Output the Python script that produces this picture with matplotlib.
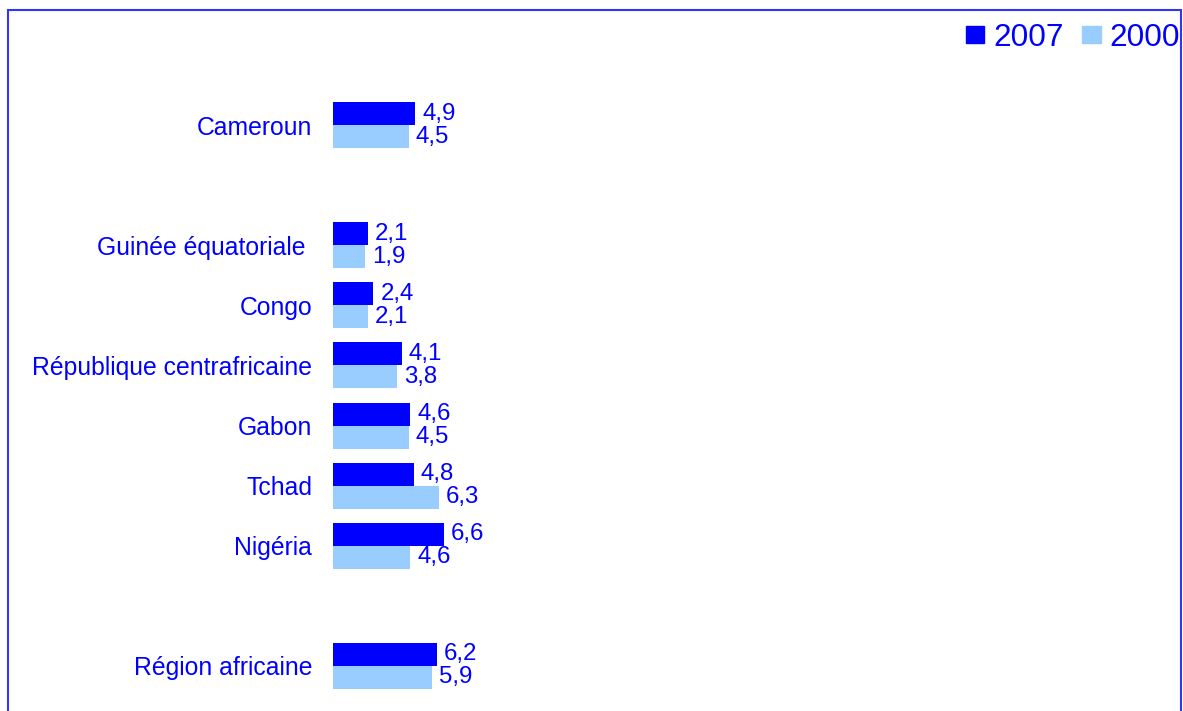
import matplotlib.pyplot as plt
from matplotlib.patches import Rectangle, Patch

# Données
categories = ['Cameroun', 'Guinée équatoriale ', 'Congo', 'République centrafricaine',
              'Gabon', 'Tchad', 'Nigéria', 'Région africaine']
values_2007 = [4.9, 2.1, 2.4, 4.1, 4.6, 4.8, 6.6, 6.2]
values_2000 = [4.5, 1.9, 2.1, 3.8, 4.5, 6.3, 4.6, 5.9]
series_names = ['2007', '2000']

# Position des catégories (avec des espaces vides)
slots = [0, 2, 3, 4, 5, 6, 7, 9]

blue = '#0000ff'
light = '#99ccff'
plt.rcParams['font.family'] = ['Liberation Sans', 'DejaVu Sans']

W, H = 1183, 711
fig = plt.figure(figsize=(W / 100, H / 100), dpi=100)
fig.patch.set_facecolor('white')

# axes placés en pixels
left, right, top = 333, 1150, 35
ax = fig.add_axes([left / W, 0, (right - left) / W, (H - top) / H])
px_per_unit = 16.8
slot_px = 60.1
ax.set_xlim(0, (right - left) / px_per_unit)
ax.set_ylim((H - 125) / slot_px, (top - 125) / slot_px)

h = 23 / slot_px
y07 = [s - h / 2 for s in slots]
y00 = [s + h / 2 for s in slots]
b07 = ax.barh(y07, values_2007, height=h, color=blue, label=series_names[0])
b00 = ax.barh(y00, values_2000, height=h, color=light, label=series_names[1])

fmt = lambda v: f'{v:.1f}'.replace('.', ',')
ax.bar_label(b07, labels=[fmt(v) for v in values_2007], padding=5, color=blue, fontsize=17.3)
ax.bar_label(b00, labels=[fmt(v) for v in values_2000], padding=5, color=blue, fontsize=17.3)

ax.set_yticks(slots)
ax.set_yticklabels(categories, color=blue, fontsize=17.8)
ax.tick_params(axis='y', length=0, pad=15)
ax.set_xticks([])
for sp in ax.spines.values():
    sp.set_visible(False)
ax.patch.set_alpha(0)

handles = [Patch(color=blue), Patch(color=light)]
leg = fig.legend(handles, series_names, loc='upper right', ncol=2,
                 bbox_to_anchor=(1180 / W, 1 - 23 / H), frameon=False,
                 fontsize=22.7, handlelength=0.6, handleheight=0.45,
                 handletextpad=0.28, columnspacing=0.57, borderpad=0, borderaxespad=0)
for t in leg.get_texts():
    t.set_color(blue)

# cadre
fig.patches.append(Rectangle((8 / W, -0.05), (1181 - 8) / W, 1.05 - 10 / H,
                             transform=fig.transFigure, fill=False,
                             edgecolor='#3333ff', linewidth=1.5))

plt.savefig('out.png', dpi=100)
